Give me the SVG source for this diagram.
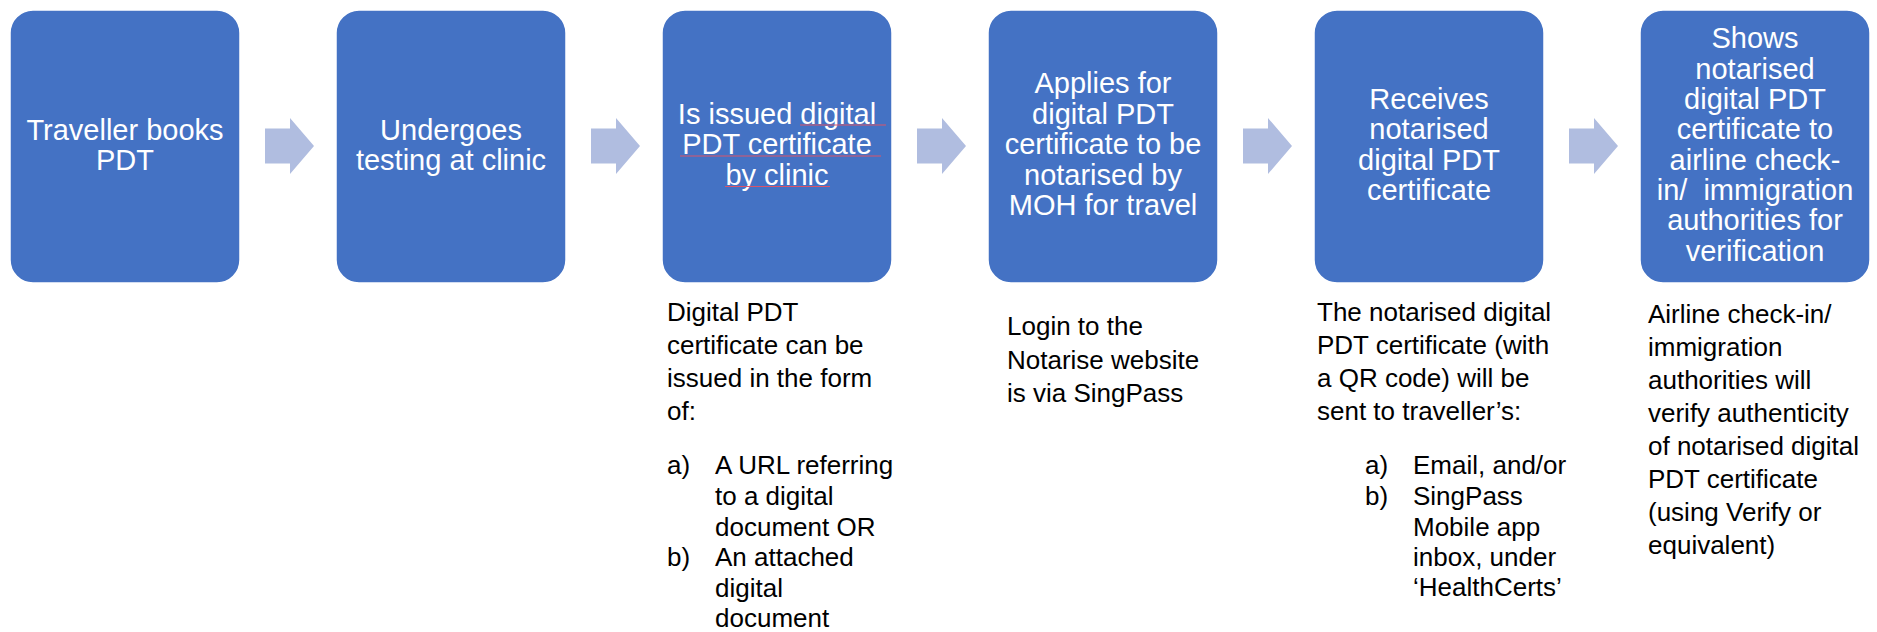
<svg xmlns="http://www.w3.org/2000/svg" width="1877" height="632" viewBox="0 0 1877 632">
<style>
.box{fill:#4472C4;stroke:#FFFFFF;stroke-width:1.5}
.arr{fill:#B0BDE0}
.bt{font-family:"Liberation Sans",Arial,sans-serif;font-size:29px;fill:#FFFFFF;text-anchor:middle}
.nt{font-family:"Liberation Sans",Arial,sans-serif;font-size:26px;fill:#000000}
.sp{stroke:#D9546A;stroke-width:1.2;fill:none}
</style>
<rect width="1877" height="632" fill="#FFFFFF"/>
<g id="connectors">
<polygon class="arr" points="265,128.5 290,128.5 290,118 314,146 290,174 290,163.5 265,163.5"/>
<polygon class="arr" points="591,128.5 616,128.5 616,118 640,146 616,174 616,163.5 591,163.5"/>
<polygon class="arr" points="917,128.5 942,128.5 942,118 966,146 942,174 942,163.5 917,163.5"/>
<polygon class="arr" points="1243,128.5 1268,128.5 1268,118 1292,146 1268,174 1268,163.5 1243,163.5"/>
<polygon class="arr" points="1569,128.5 1594,128.5 1594,118 1618,146 1594,174 1594,163.5 1569,163.5"/>
</g>
<g id="node1">
<rect class="box" x="10" y="10" width="230" height="273" rx="23"/>
<text class="bt" x="125" y="139.5">Traveller books</text>
<text class="bt" x="125" y="169.5">PDT</text>
</g>
<g id="node2">
<rect class="box" x="336" y="10" width="230" height="273" rx="23"/>
<text class="bt" x="451" y="139.5">Undergoes</text>
<text class="bt" x="451" y="169.5">testing at clinic</text>
</g>
<g id="node3">
<rect class="box" x="662" y="10" width="230" height="273" rx="23"/>
<text class="bt" x="777" y="124">Is issued digital</text>
<text class="bt" x="777" y="154">PDT certificate</text>
<text class="bt" x="777" y="184.5">by clinic</text>
<path class="sp" d="M800,125 H886 M680,156 H881 M725,186.5 H830"/>
<text class="nt" x="667" y="321">Digital PDT</text>
<text class="nt" x="667" y="354">certificate can be</text>
<text class="nt" x="667" y="387">issued in the form</text>
<text class="nt" x="667" y="420">of:</text>
<text class="nt" x="667" y="474">a)</text>
<text class="nt" x="715" y="474">A URL referring</text>
<text class="nt" x="715" y="505">to a digital</text>
<text class="nt" x="715" y="535.5">document OR</text>
<text class="nt" x="667" y="566">b)</text>
<text class="nt" x="715" y="566">An attached</text>
<text class="nt" x="715" y="597">digital</text>
<text class="nt" x="715" y="627">document</text>
</g>
<g id="node4">
<rect class="box" x="988" y="10" width="230" height="273" rx="23"/>
<text class="bt" x="1103" y="93">Applies for</text>
<text class="bt" x="1103" y="123.5">digital PDT</text>
<text class="bt" x="1103" y="154">certificate to be</text>
<text class="bt" x="1103" y="184.5">notarised by</text>
<text class="bt" x="1103" y="215">MOH for travel</text>
<text class="nt" x="1007" y="335">Login to the</text>
<text class="nt" x="1007" y="368.5">Notarise website</text>
<text class="nt" x="1007" y="402">is via SingPass</text>
</g>
<g id="node5">
<rect class="box" x="1314" y="10" width="230" height="273" rx="23"/>
<text class="bt" x="1429" y="109">Receives</text>
<text class="bt" x="1429" y="139">notarised</text>
<text class="bt" x="1429" y="169.5">digital PDT</text>
<text class="bt" x="1429" y="200">certificate</text>
<text class="nt" x="1317" y="321">The notarised digital</text>
<text class="nt" x="1317" y="354">PDT certificate (with</text>
<text class="nt" x="1317" y="387">a QR code) will be</text>
<text class="nt" x="1317" y="420">sent to traveller’s:</text>
<text class="nt" x="1365" y="474">a)</text>
<text class="nt" x="1413" y="474">Email, and/or</text>
<text class="nt" x="1365" y="505">b)</text>
<text class="nt" x="1413" y="505">SingPass</text>
<text class="nt" x="1413" y="535.5">Mobile app</text>
<text class="nt" x="1413" y="566">inbox, under</text>
<text class="nt" x="1413" y="596">‘HealthCerts’</text>
</g>
<g id="node6">
<rect class="box" x="1640" y="10" width="230" height="273" rx="23"/>
<text class="bt" x="1755" y="48">Shows</text>
<text class="bt" x="1755" y="78.5">notarised</text>
<text class="bt" x="1755" y="109">digital PDT</text>
<text class="bt" x="1755" y="139">certificate to</text>
<text class="bt" x="1755" y="169.5">airline check-</text>
<text class="bt" x="1755" y="200">in/&#160; immigration</text>
<text class="bt" x="1755" y="230">authorities for</text>
<text class="bt" x="1755" y="261">verification</text>
<text class="nt" x="1648" y="323">Airline check-in/</text>
<text class="nt" x="1648" y="356">immigration</text>
<text class="nt" x="1648" y="389">authorities will</text>
<text class="nt" x="1648" y="422">verify authenticity</text>
<text class="nt" x="1648" y="455">of notarised digital</text>
<text class="nt" x="1648" y="488">PDT certificate</text>
<text class="nt" x="1648" y="521">(using Verify or</text>
<text class="nt" x="1648" y="554">equivalent)</text>
</g>
</svg>
